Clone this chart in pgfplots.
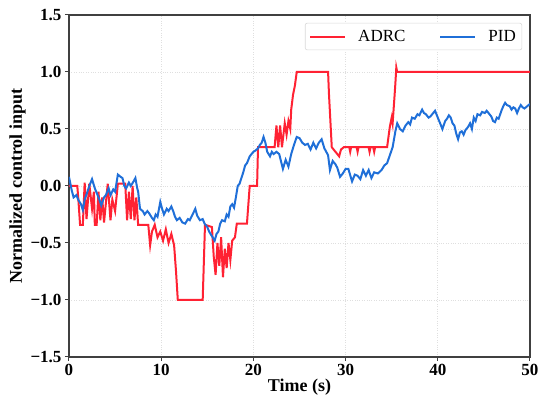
\documentclass[border=0pt]{standalone}
\usepackage{pgfplots}
\pgfplotsset{compat=1.18}
\usepackage{fontspec}
\setmainfont{Liberation Serif}
\definecolor{adrc}{HTML}{FF2233}
\definecolor{pid}{HTML}{1F6FD8}
\definecolor{axgray}{HTML}{404040}
\begin{document}
\begin{tikzpicture}[x=1pt,y=1pt]
\useasboundingbox (0,0) rectangle (550,407);
\begin{axis}[
  at={(69pt,50pt)}, anchor=south west,
  scale only axis, width=461pt, height=342pt,
  xmin=0, xmax=50, ymin=-1.5, ymax=1.5,
  xtick={0,10,20,30,40,50},
  ytick={-1.5,-1,-0.5,0,0.5,1,1.5},
  yticklabels={−1.5,−1.0,−0.5,0.0,0.5,1.0,1.5},
  xticklabels={0,10,20,30,40,50},
  tick align=outside, tick pos=left,
  major tick length=4pt,
  every tick/.style={axgray, line width=1pt},
  axis line style={axgray, line width=1.5pt},
  grid=major,
  grid style={gray!25, dotted, line width=0.6pt},
  ticklabel style={font=\bfseries\fontsize{17}{17}\selectfont},
  label style={font=\bfseries\fontsize{18}{18}\selectfont},
  xlabel={Time (s)},
  ylabel={Normalized control input},
  xlabel style={yshift=4pt},
  ylabel style={yshift=-2pt},
  legend columns=2,
  legend style={at={(0.983,0.977)}, anchor=north east,
    draw=gray!30, rounded corners=2pt, line width=0.6pt,
    font=\fontsize{17}{17}\selectfont,
    inner xsep=4pt, inner ysep=5pt,
    /tikz/every even column/.append style={column sep=32pt}},
  legend image code/.code={\draw[#1] (0pt,0pt) -- (35pt,0pt); \path (45pt,0pt);},
  legend cell align=left,
]
\addplot[adrc, line width=2pt] coordinates {
(0,0.0) (0.9,0.0) (1.0,-0.1) (1.2,-0.34) (1.5,-0.34) (1.7,0.03) (1.9,-0.29)
(2.2,0.02) (2.5,-0.2) (2.7,-0.05) (2.8,-0.34) (3.0,-0.34) (3.2,-0.05) (3.4,-0.3)
(3.6,-0.1) (3.8,-0.32) (4.2,0.02) (4.5,-0.3) (4.7,-0.12) (5.0,-0.22) (5.3,0.02)
(6.1,0.02) (6.3,-0.3) (6.5,-0.05) (6.7,-0.29) (6.9,0.0) (7.1,-0.3) (7.3,-0.1)
(7.5,-0.34) (8.6,-0.34) (8.8,-0.52) (9.0,-0.4) (9.3,-0.34) (9.6,-0.45) (9.9,-0.4)
(10.2,-0.48) (10.5,-0.38) (10.8,-0.5) (11.1,-0.42) (11.4,-0.52) (11.6,-0.74)
(11.8,-1.0) (14.5,-1.0) (14.75,-0.34) (15.5,-0.36) (15.7,-0.62) (15.9,-0.78)
(16.1,-0.5) (16.3,-0.7) (16.5,-0.45) (16.7,-0.8) (16.9,-0.55) (17.1,-0.72)
(17.3,-0.5) (17.5,-0.65) (17.7,-0.48) (18.0,-0.45) (18.2,-0.33) (19.3,-0.33)
(19.6,0.0) (20.4,0.0) (20.5,0.34) (22.3,0.34) (22.5,0.53) (22.7,0.34) (22.9,0.53)
(23.1,0.34) (23.4,0.55) (23.6,0.45) (23.8,0.57) (24.0,0.5) (24.1,0.67) (24.3,0.8)
(24.5,0.88) (24.7,1.0) (28.1,1.0) (28.2,0.8) (28.5,0.34) (28.9,0.3) (29.3,0.26)
(29.5,0.32) (29.8,0.34) (30.4,0.34) (30.5,0.3) (30.6,0.34) (31.2,0.34) (31.3,0.3)
(31.4,0.34) (32.5,0.34) (32.6,0.3) (32.7,0.34) (33.0,0.34) (33.1,0.3) (33.2,0.34)
(34.5,0.34) (34.8,0.52) (35.0,0.6) (35.1,0.55) (35.3,0.78) (35.4,0.9) (35.5,1.04)
(35.6,1.0) (50,1.0)
};
\addlegendentry{ADRC}
\addplot[pid, line width=2pt] coordinates {
(0,0.08) (0.3,-0.04) (0.5,-0.1) (0.8,-0.08) (1.0,-0.12) (1.3,-0.16) (1.5,-0.21)
(1.7,-0.12) (2.0,-0.05) (2.3,0.02) (2.5,0.06) (2.8,-0.02) (3.0,-0.06) (3.3,-0.12)
(3.5,-0.17) (3.8,-0.1) (4.0,-0.08) (4.3,-0.02) (4.5,-0.08) (4.8,-0.03) (5.0,-0.05)
(5.3,0.1) (5.6,0.08) (5.8,0.07) (6.0,0.0) (6.2,-0.02) (6.5,0.03) (6.7,0.0)
(7.0,0.04) (7.2,0.07) (7.4,-0.02) (7.5,-0.05) (7.7,-0.2) (8.0,-0.22) (8.2,-0.25)
(8.5,-0.22) (8.7,-0.24) (9.0,-0.28) (9.2,-0.3) (9.4,-0.25) (9.6,-0.27) (9.9,-0.14)
(10.1,-0.2) (10.3,-0.25) (10.6,-0.2) (10.8,-0.22) (11.1,-0.18) (11.3,-0.22)
(11.5,-0.27) (11.7,-0.3) (12.0,-0.28) (12.3,-0.32) (12.6,-0.33) (12.9,-0.29)
(13.1,-0.3) (13.4,-0.25) (13.7,-0.2) (13.9,-0.26) (14.2,-0.3) (14.5,-0.29)
(14.7,-0.33) (15.0,-0.36) (15.2,-0.4) (15.5,-0.44) (15.8,-0.48) (16.0,-0.42)
(16.2,-0.4) (16.4,-0.33) (16.6,-0.3) (16.9,-0.31) (17.1,-0.25) (17.3,-0.27)
(17.5,-0.18) (17.7,-0.16) (17.9,-0.19) (18.1,-0.1) (18.3,0.0) (18.5,0.02)
(18.7,0.07) (18.9,0.12) (19.1,0.18) (19.3,0.2) (19.6,0.26) (20.0,0.3) (20.2,0.31)
(20.5,0.33) (20.7,0.36) (20.9,0.38) (21.1,0.43) (21.3,0.38) (21.5,0.3) (21.8,0.26)
(22.0,0.3) (22.2,0.28) (22.5,0.3) (22.8,0.28) (23.2,0.15) (23.5,0.23) (23.8,0.17)
(24.1,0.28) (24.4,0.36) (24.7,0.43) (25.0,0.42) (25.3,0.38) (25.6,0.36) (25.9,0.37)
(26.2,0.32) (26.5,0.38) (26.8,0.33) (27.1,0.38) (27.4,0.41) (27.7,0.33) (28.1,0.27)
(28.3,0.14) (28.6,0.22) (28.9,0.19) (29.1,0.16) (29.4,0.08) (29.7,0.11) (30.0,0.15)
(30.3,0.15) (30.7,0.04) (31.0,0.1) (31.3,0.09) (31.6,0.06) (31.9,0.14) (32.2,0.09)
(32.5,0.14) (32.8,0.07) (33.1,0.12) (33.5,0.11) (33.9,0.14) (34.2,0.18) (34.5,0.2)
(34.8,0.27) (35.1,0.34) (35.4,0.48) (35.6,0.55) (35.9,0.5) (36.2,0.48) (36.5,0.53)
(36.8,0.56) (37.0,0.54) (37.2,0.6) (37.5,0.59) (37.8,0.63) (38.0,0.62) (38.3,0.67)
(38.5,0.64) (38.7,0.63) (39.0,0.6) (39.2,0.61) (39.5,0.64) (39.7,0.66) (40.0,0.6)
(40.2,0.56) (40.5,0.5) (40.8,0.57) (41.0,0.59) (41.2,0.62) (41.4,0.6) (41.6,0.55)
(41.8,0.53) (42.0,0.46) (42.2,0.41) (42.4,0.47) (42.6,0.48) (42.8,0.45) (43.0,0.49)
(43.3,0.52) (43.5,0.55) (43.7,0.5) (43.9,0.6) (44.1,0.57) (44.3,0.63) (44.6,0.62)
(44.8,0.65) (45.1,0.64) (45.3,0.66) (45.6,0.63) (45.8,0.61) (46.0,0.57) (46.2,0.56)
(46.4,0.6) (46.6,0.59) (46.9,0.66) (47.1,0.7) (47.3,0.73) (47.5,0.71) (47.8,0.7)
(48.0,0.67) (48.2,0.69) (48.4,0.68) (48.6,0.64) (48.8,0.68) (49.0,0.71) (49.2,0.69)
(49.4,0.68) (49.7,0.7) (50.0,0.72)
};
\addlegendentry{PID}
\end{axis}
\end{tikzpicture}
\end{document}
